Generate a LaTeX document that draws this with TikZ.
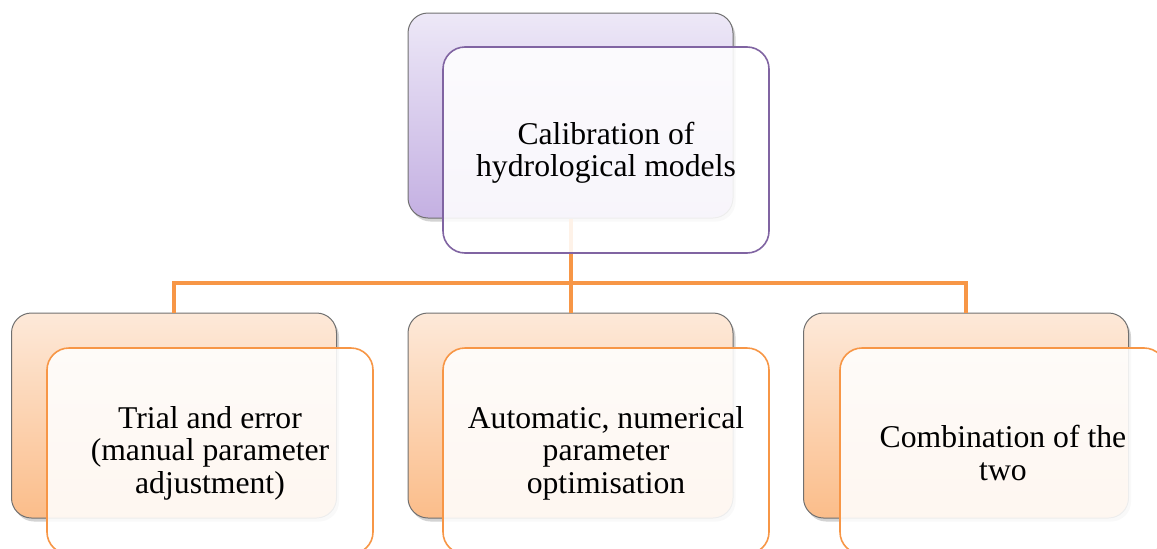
\documentclass[tikz,border=0pt]{standalone}
\usepackage{fontspec}
\setmainfont{Liberation Serif}
\usetikzlibrary{shadows}
\definecolor{lineor}{HTML}{F79646}
\definecolor{purp}{HTML}{8064A2}
\definecolor{purtop}{RGB}{237,232,247}
\definecolor{purbot}{RGB}{196,176,226}
\definecolor{peatop}{RGB}{253,233,217}
\definecolor{peabot}{RGB}{251,189,138}
\definecolor{backline}{RGB}{112,112,112}
\begin{document}
\begin{tikzpicture}[x=1pt,y=-1pt,
  backbox/.style={draw=backline, line width=1pt, rounded corners=20pt,
    minimum width=325pt, minimum height=205pt, inner sep=0pt,
    drop shadow={opacity=0.35, shadow xshift=2.5pt, shadow yshift=-3.5pt}},
  purback/.style={backbox, top color=purtop, bottom color=purbot},
  peaback/.style={backbox, top color=peatop, bottom color=peabot},
  frontbox/.style={line width=1.6pt, rounded corners=22pt,
    minimum width=326pt, minimum height=206pt, inner sep=0pt,
    fill=white, fill opacity=0.88},
  purfront/.style={frontbox, draw=purp},
  peafront/.style={frontbox, draw=lineor},
  txt/.style={align=center, inner sep=0pt,
    font=\fontsize{31.7}{32.5}\selectfont},
  conn/.style={draw=lineor, line width=4pt}]
\useasboundingbox (0,0) rectangle (1157,549);
\clip (0,0) rectangle (1157,549);
% back boxes
\node[purback] (tb) at (570.5,115.5) {};
\node[peaback] (b1) at (174,415.5) {};
\node[peaback] (b2) at (570.5,415.5) {};
\node[peaback] (b3) at (966,415.5) {};
% connectors
\coordinate (j) at (570.5,283);
\draw[conn] (tb.south) -- (j);
\draw[conn] (b1.north) |- (j) -| (b3.north);
\draw[conn] (j) -- (b2.north);
% front boxes
\node[purfront] (tf) at (606,150) {};
\node[peafront] (f1) at (210,451) {};
\node[peafront] (f2) at (606,451) {};
\node[peafront] (f3) at (1003,451) {};
% texts
\node[txt] (t0) at ([yshift=-3pt]tf.center) {Calibration of\\hydrological models};
\node[txt] (t1) at ([yshift=-2pt]f1.center) {Trial and error\\(manual parameter\\adjustment)};
\node[txt] (t2) at ([yshift=-2pt]f2.center) {Automatic, numerical\\parameter\\optimisation};
\node[txt] (t3) at ([yshift=-2pt]f3.center) {Combination of the\\two};
\end{tikzpicture}
\end{document}
